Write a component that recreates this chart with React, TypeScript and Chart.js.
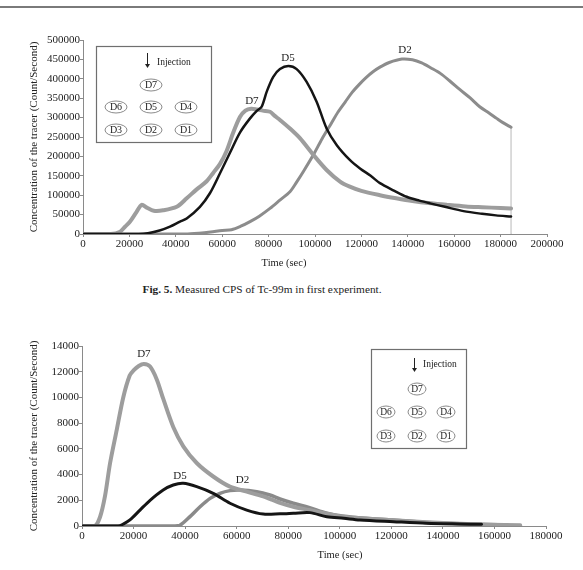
import React, { useEffect, useRef } from 'react';
import { Chart, registerables } from 'chart.js';

Chart.register(...registerables);

const SERIF = '"Liberation Serif", "Times New Roman", serif';

// ---------- Fig. 5 (top chart) ----------
const topXTicksMax = 200000;
const topYTicksMax = 500000;

const topD7Time = [0, 12000, 16000, 18000, 20300, 23100, 25300, 27500, 30500, 34500, 40400, 44700, 49000, 53300, 56200, 59000, 61900, 64800, 67700, 70000, 72500, 75000, 77500, 80600, 82500, 84900, 89200, 93500, 99300, 105000, 110800, 115000, 120000, 128000, 135000, 142000, 150000, 157000, 165000, 172000, 180000, 184500];
const topD7Value = [0, 0, 6000, 18000, 32000, 57000, 75000, 68000, 60000, 61000, 70000, 92000, 115000, 136000, 158000, 180000, 214000, 262000, 302000, 318000, 323000, 321000, 318000, 315000, 305000, 294000, 272000, 247000, 204000, 165000, 135000, 122000, 111000, 100000, 92000, 85000, 79000, 75000, 71000, 69000, 67000, 66000];

const topD5Time = [0, 24000, 28000, 33000, 37500, 41800, 44700, 50400, 54700, 59000, 63400, 67700, 72000, 75000, 77000, 79200, 82000, 84900, 88500, 92100, 96400, 100700, 105000, 109400, 115000, 119400, 124000, 128000, 134000, 139500, 145000, 149600, 156000, 164000, 172000, 178000, 184500];
const topD5Value = [0, 0, 2000, 9000, 19000, 32000, 40000, 70000, 105000, 156000, 210000, 262000, 298000, 318000, 328000, 367000, 405000, 425000, 433000, 425000, 392000, 341000, 272000, 229000, 191000, 169000, 150000, 131000, 112000, 96000, 86000, 79000, 70000, 59000, 52000, 48000, 45000];

const topD2Time = [0, 44000, 50000, 55000, 60000, 64000, 68000, 72000, 76000, 80600, 85000, 89200, 92000, 95000, 99300, 103000, 107000, 110000, 113000, 116000, 119000, 122000, 125000, 128000, 132000, 137500, 142000, 146000, 150000, 154000, 158000, 162500, 167000, 171000, 175000, 178300, 181000, 184500];
const topD2Value = [0, 0, 2000, 5000, 9000, 11000, 20000, 32000, 46000, 66000, 88000, 109000, 133000, 161000, 204000, 245000, 285000, 315000, 340000, 365000, 385000, 403000, 418000, 430000, 442000, 451000, 449000, 441000, 428000, 414000, 395000, 372000, 350000, 328000, 312000, 298000, 287000, 275000];

const topEdgeTime = [184500, 184500];
const topEdgeValue = [0, 275000];

const topLabelNames = ['D7', 'D5', 'D2'];
const topLabelX = [72800, 88400, 138800];
const topLabelY = [343000, 454000, 474000];

// ---------- second experiment (bottom chart) ----------
const botXTicksMax = 180000;
const botYTicksMax = 14000;

const botD7Time = [0, 5000, 7000, 8900, 10900, 13500, 16000, 18500, 20000, 22000, 24000, 26400, 29000, 31500, 35400, 39300, 44500, 50900, 57400, 63900, 70300, 76800, 82000, 88000, 95000, 101000, 110000, 120800, 133700, 146600, 158000, 170000];
const botD7Value = [0, 0, 700, 2300, 4900, 7500, 10000, 11700, 12100, 12450, 12600, 12400, 11400, 9900, 7700, 6200, 4900, 3850, 3060, 2670, 2300, 1800, 1500, 1250, 950, 720, 580, 450, 290, 180, 100, 60];

const botD5Time = [0, 14000, 16000, 18600, 22500, 26400, 31500, 35400, 39300, 44500, 50900, 57400, 63900, 70300, 76800, 82000, 88400, 95000, 101500, 107800, 120800, 133700, 146600, 155000];
const botD5Value = [0, 0, 150, 470, 1240, 2000, 2800, 3190, 3320, 3060, 2540, 1770, 1240, 930, 950, 990, 1040, 720, 600, 470, 340, 220, 160, 130];

const botD2Time = [0, 36000, 38000, 41900, 45800, 49700, 53500, 57400, 61300, 67800, 72900, 76800, 82000, 88000, 95000, 101000, 110000, 120800, 133700, 146600, 158000, 165000];
const botD2Value = [0, 0, 50, 730, 1500, 2150, 2540, 2750, 2800, 2670, 2410, 2100, 1770, 1450, 1000, 780, 600, 470, 280, 170, 110, 80];

const botLabelNames = ['D7', 'D5', 'D2'];
const botLabelX = [24000, 38000, 62300];
const botLabelY = [13380, 3910, 3580];

const cellNames = ['D7', 'D6', 'D5', 'D4', 'D3', 'D2', 'D1'];

const yTitle = 'Concentration of the tracer (Count/Second)';
const xTitle = 'Time (sec)';
const captionBold = 'Fig. 5.';
const captionText = ' Measured CPS of Tc-99m in first experiment.';

function series(label: string, t: number[], v: number[], color: string, width: number, smooth = true) {
  return {
    label,
    data: t.map((x, i) => ({ x, y: v[i] })),
    borderColor: color,
    backgroundColor: color,
    borderWidth: width,
    pointRadius: 0,
    fill: false,
    cubicInterpolationMode: 'default',
    tension: smooth ? 0.3 : 0,
    borderJoinStyle: 'round',
    borderCapStyle: 'round',
  };
}

function xScale(max: number, step: number, h: number) {
  return {
    type: 'linear',
    min: 0,
    max,
    border: { display: true, color: '#8a8a8a', width: 1 },
    grid: { display: true, drawOnChartArea: false, drawTicks: true, tickLength: 3, color: '#8a8a8a' },
    ticks: {
      stepSize: step,
      autoSkip: false,
      maxRotation: 0,
      padding: 1,
      color: '#222',
      font: { family: SERIF, size: 11 },
      callback: (v: number) => String(v),
    },
    afterFit: (s: any) => { s.height = h; },
  };
}

function yScale(max: number, step: number, w: number) {
  return {
    type: 'linear',
    min: 0,
    max,
    border: { display: true, color: '#8a8a8a', width: 1 },
    grid: { display: true, drawOnChartArea: false, drawTicks: true, tickLength: 3, color: '#8a8a8a' },
    ticks: {
      stepSize: step,
      autoSkip: false,
      padding: 0,
      color: '#222',
      font: { family: SERIF, size: 11 },
      callback: (v: number) => String(v),
    },
    title: {
      display: true,
      text: yTitle,
      color: '#222',
      font: { family: SERIF, size: 11 },
      padding: 0,
    },
    afterFit: (s: any) => { s.width = w; },
  };
}

type BoxCfg = {
  x: number; y: number; w: number; h: number;
  ax: number; ay1: number; ay2: number; ix: number; iy: number;
  cx: number[]; cy: number[]; rx: number; ry: number; cf: number;
};

function annotPlugin(names: string[], lx: number[], ly: number[], tx: number, ty: number, b: BoxCfg) {
  return {
    id: 'annot',
    afterDraw(chart: any) {
      const ctx = chart.ctx as CanvasRenderingContext2D;
      const xs = chart.scales.x;
      const ys = chart.scales.y;
      ctx.save();
      ctx.fillStyle = '#222';
      ctx.textAlign = 'center';
      ctx.textBaseline = 'middle';
      ctx.font = `11px ${SERIF}`;
      names.forEach((n, i) => ctx.fillText(n, xs.getPixelForValue(lx[i]), ys.getPixelForValue(ly[i])));
      ctx.font = `10.5px ${SERIF}`;
      ctx.fillText(xTitle, tx, ty);
      // layout box
      ctx.strokeStyle = '#6f6f6f';
      ctx.lineWidth = 1.2;
      ctx.strokeRect(b.x + 0.5, b.y + 0.5, b.w, b.h);
      // arrow
      ctx.strokeStyle = '#222';
      ctx.lineWidth = 1;
      ctx.beginPath();
      ctx.moveTo(b.ax + 0.5, b.ay1);
      ctx.lineTo(b.ax + 0.5, b.ay2 - 3);
      ctx.stroke();
      ctx.beginPath();
      ctx.moveTo(b.ax - 2, b.ay2 - 4);
      ctx.lineTo(b.ax + 3, b.ay2 - 4);
      ctx.lineTo(b.ax + 0.5, b.ay2);
      ctx.closePath();
      ctx.fill();
      ctx.textAlign = 'left';
      ctx.font = `9.5px ${SERIF}`;
      ctx.fillText('Injection', b.ix, b.iy);
      ctx.textAlign = 'center';
      ctx.font = `${b.cf}px ${SERIF}`;
      cellNames.forEach((t, i) => {
        ctx.beginPath();
        ctx.ellipse(b.cx[i], b.cy[i], b.rx, b.ry, 0, 0, Math.PI * 2);
        ctx.strokeStyle = '#8a8a8a';
        ctx.lineWidth = 1;
        ctx.stroke();
        ctx.fillText(t, b.cx[i], b.cy[i] + 0.5);
      });
      ctx.restore();
    },
  };
}

function buildTop(): any {
  return {
    type: 'line',
    data: {
      datasets: [
        series('D5', topD5Time, topD5Value, '#151515', 2.5),
        series('D7', topD7Time, topD7Value, '#9d9d9d', 4),
        series('D2', topD2Time, topD2Value, '#8c8c8c', 3),
        series('edge', topEdgeTime, topEdgeValue, '#b8b8b8', 1, false),
      ],
    },
    options: {
      responsive: false,
      animation: false,
      events: [],
      layout: { padding: { left: 28, top: 40, right: 36, bottom: 0 } },
      plugins: { legend: { display: false }, tooltip: { enabled: false }, title: { display: false } },
      scales: {
        x: xScale(topXTicksMax, 20000, 41),
        y: yScale(topYTicksMax, 50000, 55),
      },
    },
    plugins: [
      annotPlugin(topLabelNames, topLabelX, topLabelY, 284, 263, {
        x: 96, y: 46, w: 115, h: 96,
        ax: 147, ay1: 53, ay2: 68, ix: 157, iy: 62,
        cx: [151, 116, 151, 186, 116, 151, 186],
        cy: [85, 107, 107, 107, 130, 130, 130],
        rx: 11, ry: 6, cf: 10,
      }),
    ],
  };
}

function buildBottom(): any {
  return {
    type: 'line',
    data: {
      datasets: [
        series('D5', botD5Time, botD5Value, '#151515', 3),
        series('D7', botD7Time, botD7Value, '#9d9d9d', 4),
        series('D2', botD2Time, botD2Value, '#8a8a8a', 3.5),
      ],
    },
    options: {
      responsive: false,
      animation: false,
      events: [],
      layout: { padding: { left: 28, top: 46, right: 37, bottom: 0 } },
      plugins: { legend: { display: false }, tooltip: { enabled: false }, title: { display: false } },
      scales: {
        x: xScale(botXTicksMax, 20000, 44),
        y: yScale(botYTicksMax, 2000, 54),
      },
    },
    plugins: [
      annotPlugin(botLabelNames, botLabelX, botLabelY, 340, 255, {
        x: 371, y: 49, w: 95, h: 99,
        ax: 414, ay1: 58, ay2: 72, ix: 423, iy: 64,
        cx: [417, 386, 417, 446, 386, 417, 446],
        cy: [89, 112, 112, 112, 136, 136, 136],
        rx: 9, ry: 6, cf: 9.5,
      }),
    ],
  };
}

function ChartCanvas({ build, top, height }: { build: () => any; top: number; height: number }) {
  const ref = useRef<HTMLCanvasElement>(null);
  useEffect(() => {
    const chart = new Chart(ref.current as HTMLCanvasElement, build());
    return () => chart.destroy();
  }, []);
  return (
    <canvas
      ref={ref}
      width={583}
      height={height}
      style={{ position: 'absolute', left: 0, top, width: 583, height, display: 'block' }}
    />
  );
}

export default function App() {
  return (
    <div style={{ position: 'absolute', left: 0, top: 0, width: 583, height: 570, background: '#fff', overflow: 'hidden', fontFamily: SERIF }}>
      <div style={{ position: 'absolute', left: 0, top: 6, width: 583, height: 2, background: '#7a7a7a' }} />
      <ChartCanvas build={buildTop} top={0} height={275} />
      <div style={{ position: 'absolute', left: 0, top: 282, width: 524, textAlign: 'center', fontSize: 11.3, lineHeight: '14px', color: '#222', whiteSpace: 'nowrap' }}>
        <b>{captionBold}</b>{captionText}
      </div>
      <ChartCanvas build={buildBottom} top={300} height={270} />
    </div>
  );
}
